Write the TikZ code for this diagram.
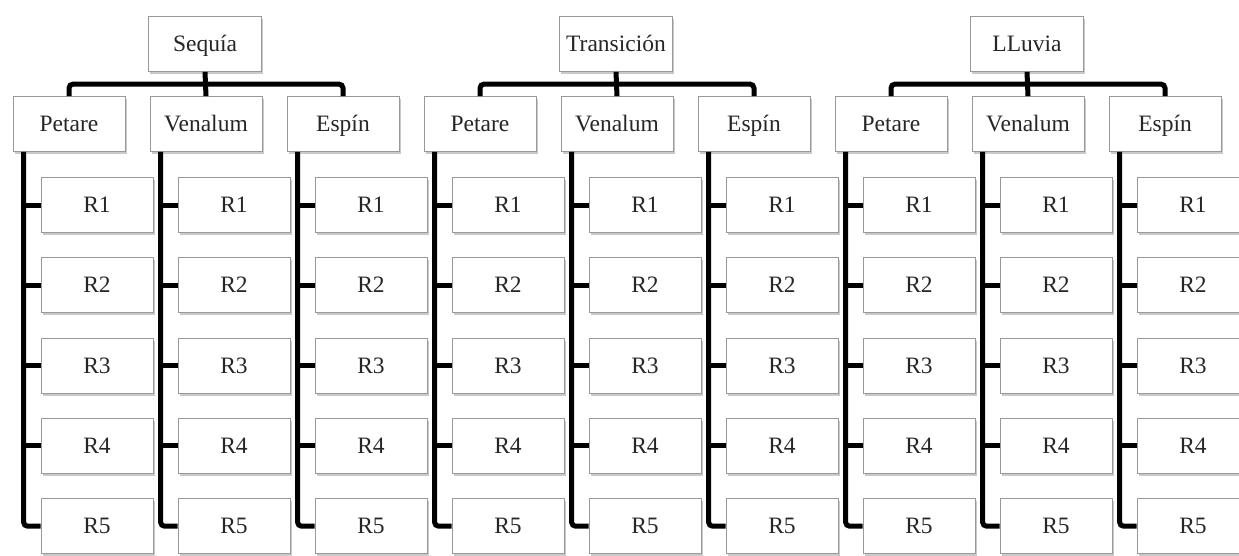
\documentclass[tikz,border=0pt]{standalone}
\usepackage{fontspec}
\setmainfont{Liberation Serif}
\usetikzlibrary{shadows}
\begin{document}
\begin{tikzpicture}[x=1pt,y=-1pt,
  box/.style={draw=black!40, line width=0.8pt, fill=white, minimum height=55pt,
    inner sep=0pt, text=black!85, font=\fontsize{23.5}{26}\selectfont,
    text height=18pt, text depth=3pt,
    drop shadow={shadow xshift=1.5pt, shadow yshift=-2.5pt, opacity=0.35, fill=black!60}},
  topbox/.style={box, minimum width=113pt},
  colbox/.style={box, minimum width=112pt},
  rbox/.style={box, minimum width=112pt},
  conn/.style={line width=5pt, draw=black, rounded corners=4pt}]
\useasboundingbox (0,0) rectangle (1239,555);
\fill[white] (0,0) rectangle (1239,555);
\foreach \g/\gt in {0/Sequía, 1/Transición, 2/LLuvia}{
  \node[topbox] (g\g) at ({205+411*\g},44) {\gt};
  \foreach \c/\ct in {0/Petare, 1/Venalum, 2/Espín}{
    \node[colbox] (g\g c\c) at ({69+411*\g+137*\c},124) {\ct};
    \coordinate (g\g c\c t) at ([xshift=11pt]g\g c\c.south west);
    \foreach \r in {1,...,5}{
      \node[rbox] (g\g c\c r\r) at ({97+411*\g+137*\c},{205+80.3*(\r-1)}) {R\r};
    }
  }
}
\foreach \g in {0,1,2}{
  \draw[conn] (g\g c0.north) -- ++(0,-12) -| (g\g c2.north);
  \draw[conn, rounded corners=0pt] (g\g.south) -- (g\g c1.north);
  \foreach \c in {0,1,2}{
    \draw[conn] (g\g c\c t) |- (g\g c\c r5.west);
    \foreach \r in {1,...,4}{
      \draw[conn] (g\g c\c r\r.west) -- (g\g c\c t |- g\g c\c r\r.west);
    }
  }
}
\end{tikzpicture}
\end{document}
